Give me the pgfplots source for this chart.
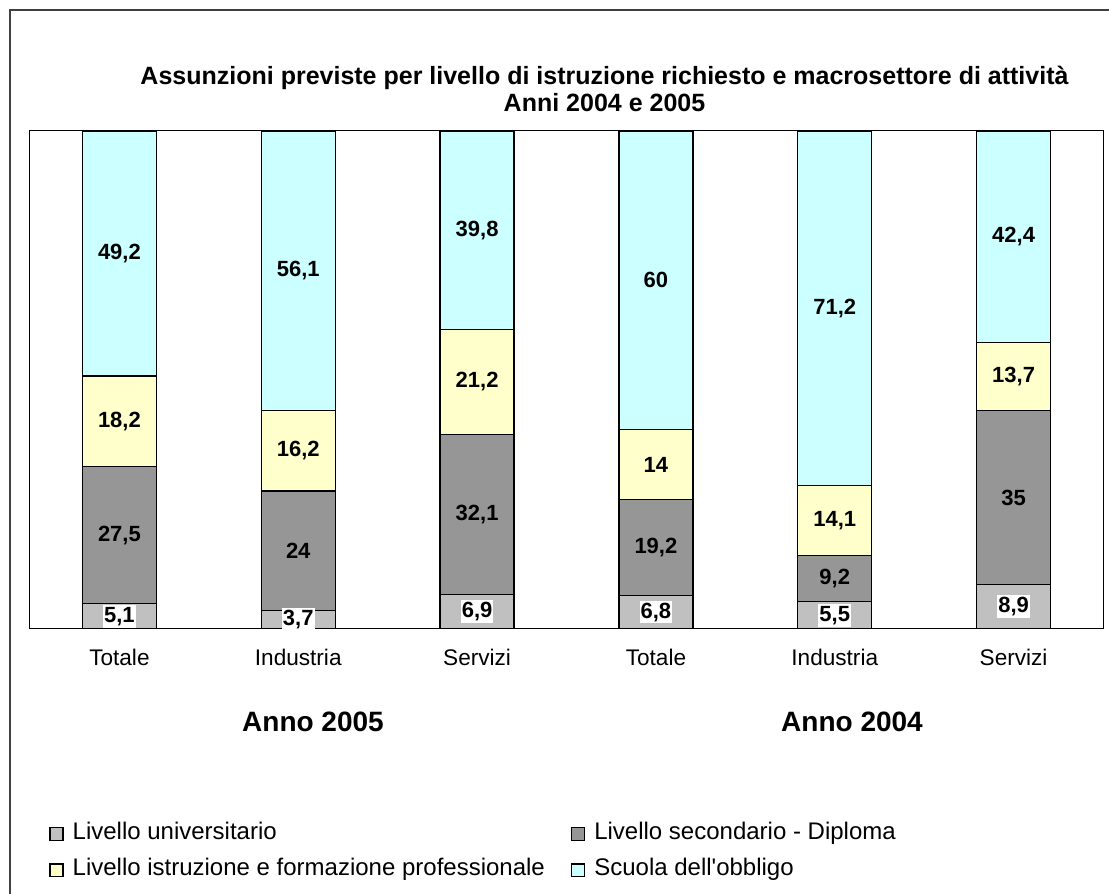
\documentclass[border=0pt]{standalone}
\usepackage{pgfplots}
\pgfplotsset{compat=1.18}
\usepackage{pgfplotstable}
\usepackage{fontspec}
\setmainfont{Liberation Sans}
\definecolor{cUni}{HTML}{C0C0C0}
\definecolor{cSec}{HTML}{969696}
\definecolor{cPro}{HTML}{FFFFCC}
\definecolor{cObb}{HTML}{CCFFFF}
\definecolor{cFrame}{HTML}{404040}

\pgfplotstableread{
x uni sec pro obb
0 5.1 27.5 18.2 49.2
1 3.7 24 16.2 56.1
2 6.9 32.1 21.2 39.8
3 6.8 19.2 14 60
4 5.5 9.2 14.1 71.2
5 8.9 35 13.7 42.4
}\data

\pgfplotstableread{
x y lab
0 2.55 5,1
1 1.85 3,7
2 3.45 6,9
3 3.4 6,8
4 2.75 5,5
5 4.45 8,9
}\labuni

\pgfplotstableread{
x y lab
0 18.85 27,5
1 15.7 24
2 22.95 32,1
3 16.4 19,2
4 10.1 9,2
5 26.4 35
0 41.7 18,2
1 35.8 16,2
2 49.6 21,2
3 33 14
4 21.75 14,1
5 50.75 13,7
0 75.4 49,2
1 71.95 56,1
2 80.1 39,8
3 70 60
4 64.4 71,2
5 78.8 42,4
}\labrest

\pgfplotsset{
  base/.style={
    at={(15pt,132.5pt)}, anchor=south west,
    scale only axis, width=536.5pt, height=249pt,
    xmin=-0.5, xmax=5.5, ymin=0, ymax=100,
  },
  leg/.style={legend image code/.code={\draw[##1, line width=0.7pt] (0.5pt,-4.2pt) rectangle (7pt,2.1pt);}},
  lbl/.style={only marks, mark=*, mark size=0pt, mark options={draw=none, fill=none},
    point meta=explicit symbolic, nodes near coords, nodes near coords align={anchor=center},
    every node near coord/.append style={anchor=center, font=\fontsize{11}{13}\selectfont\bfseries, text=black}},
}

\begin{document}
\begin{tikzpicture}
\useasboundingbox (0,0) rectangle (554.5pt,447pt);
\draw[cFrame, line width=1pt] (5pt,0pt) -- (5pt,442pt) -- (554.5pt,442pt);

\node[anchor=base, font=\fontsize{12.5}{14}\selectfont\bfseries] at (302.25pt,404.75pt) {Assunzioni previste per livello di istruzione richiesto e macrosettore di attività};
\node[anchor=base, font=\fontsize{12.5}{14}\selectfont\bfseries] at (302.25pt,391pt) {Anni 2004 e 2005};

\node[anchor=base, font=\fontsize{14}{16}\selectfont\bfseries] at (156.5pt,81.15pt) {Anno 2005};
\node[anchor=base, font=\fontsize{14}{16}\selectfont\bfseries] at (426pt,81.15pt) {Anno 2004};

\begin{axis}[
  base,
  ybar stacked, bar width=37pt,
  xtick={0,...,5}, xticklabels={Totale,Industria,Servizi,Totale,Industria,Servizi},
  ytick=\empty, major tick length=0pt,
  xticklabel style={font=\fontsize{11.3}{13}\selectfont, yshift=-6.5pt},
  axis line style={black, line width=0.5pt},
  legend columns=2,
  legend cell align=left,
  legend style={at={(axis description cs:0.012,-0.37)}, anchor=north west, draw=none, fill=none,
    font=\fontsize{12}{14}\selectfont, row sep=4pt,
    /tikz/every odd column/.append style={column sep=2.5pt},
    /tikz/every even column/.append style={column sep=11pt}},
]
\addplot[leg, fill=cUni, draw=black, line width=0.6pt] table[x=x, y=uni] {\data};
\addplot[leg, fill=cSec, draw=black, line width=0.6pt] table[x=x, y=sec] {\data};
\addplot[leg, fill=cPro, draw=black, line width=0.6pt] table[x=x, y=pro] {\data};
\addplot[leg, fill=cObb, draw=black, line width=0.6pt] table[x=x, y=obb] {\data};
\legend{Livello universitario, Livello secondario - Diploma, Livello istruzione e formazione professionale, Scuola dell\textquotesingle obbligo}
\end{axis}

\begin{axis}[base, hide axis]
\addplot[lbl, every node near coord/.append style={fill=white, inner xsep=0.5pt, inner ysep=1pt}] table[x=x, y=y, meta=lab] {\labuni};
\addplot[lbl] table[x=x, y=y, meta=lab] {\labrest};
\end{axis}
\end{tikzpicture}
\end{document}
